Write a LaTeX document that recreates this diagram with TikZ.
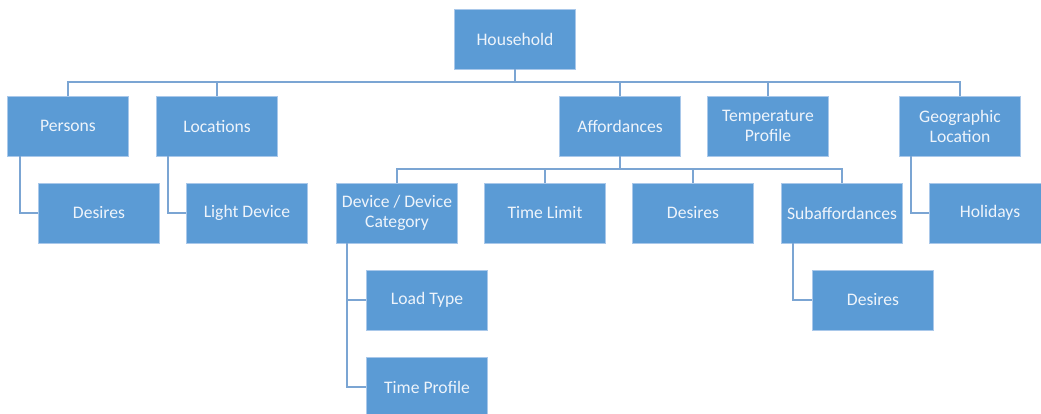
\documentclass[tikz,border=0pt]{standalone}
\usepackage{fontspec}
\setmainfont{Carlito}
\definecolor{boxfill}{HTML}{5B9BD5}
\definecolor{boxedge}{HTML}{A9C8EA}
\definecolor{linkc}{HTML}{7BA5D3}
\definecolor{txtc}{HTML}{EEF4FB}
\begin{document}
\begin{tikzpicture}[x=1pt,y=-1pt,
  box/.style={rectangle,draw=boxedge,line width=0.8pt,fill=boxfill,minimum width=121pt,minimum height=60pt,
    text=txtc,font=\fontsize{17.6}{20}\selectfont,align=center,inner sep=0pt},
  link/.style={draw=linkc,line width=1.2pt}]
\useasboundingbox (0,0) rectangle (1041,414);
\node[box] (hh) at (515,39) {Household};
\node[box] (per) at (68,126) {Persons};
\node[box] (loc) at (217,126) {Locations};
\node[box] (aff) at (620,126) {Affordances};
\node[box] (tmp) at (768,126) {Temperature\\Profile};
\node[box] (geo) at (960,126) {Geographic\\Location};
\node[box] (pdes) at (99,213) {Desires};
\node[box] (ld) at (247,213) {Light Device};
\node[box] (dev) at (397,213) {Device / Device\\Category};
\node[box] (tl) at (545,213) {Time Limit};
\node[box] (ades) at (693,213) {Desires};
\node[box] (sub) at (842,213) {Subaffordances};
\node[box] (hol) at (990,213) {Holidays};
\node[box] (lt) at (427,300) {Load Type};
\node[box] (tp) at (427,387) {Time Profile};
\node[box] (sdes) at (873,300) {Desires};
% household bus
\coordinate (bus) at (515,82);
\draw[link] (hh.south) -- (bus);
\draw[link] (per.north) |- (geo.north |- bus) -- (geo.north);
\foreach \n in {loc,aff,tmp} \draw[link] (\n.north) -- (\n.north |- bus);
% affordances bus
\coordinate (abus) at (620,169);
\draw[link] (aff.south) -- (abus);
\draw[link] (dev.north) |- (sub.north |- abus) -- (sub.north);
\foreach \n in {tl,ades} \draw[link] (\n.north) -- (\n.north |- abus);
% side connectors
\draw[link] (per.south -| 20,0) |- (pdes.west);
\draw[link] (loc.south -| 168,0) |- (ld.west);
\draw[link] (dev.south -| 347,0) |- (lt.west);
\draw[link] (dev.south -| 347,0) |- (tp.west);
\draw[link] (sub.south -| 793,0) |- (sdes.west);
\draw[link] (geo.south -| 911,0) |- (hol.west);
\end{tikzpicture}
\end{document}
